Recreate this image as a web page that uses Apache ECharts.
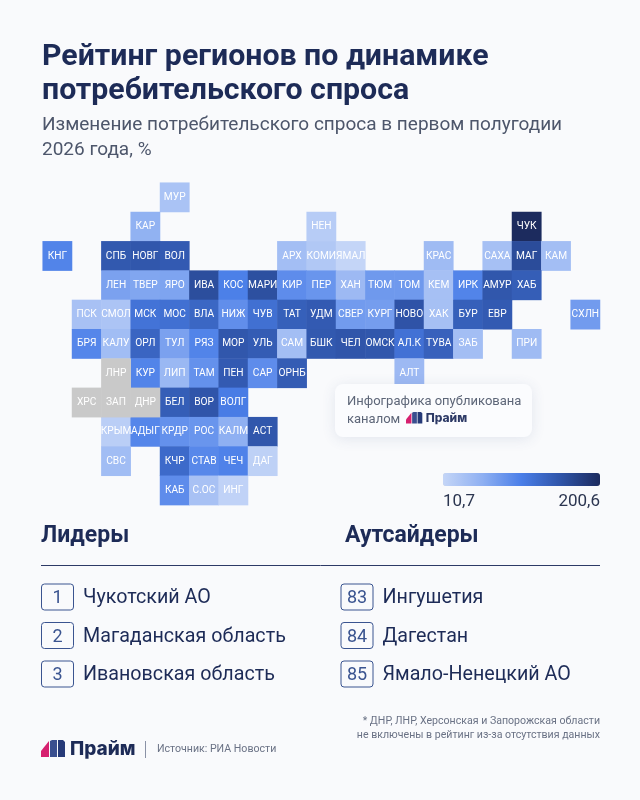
<!DOCTYPE html>
<html>
<head>
<meta charset="utf-8">
<style>html,body{margin:0;padding:0;background:#f9fafc}#main{width:640px;height:800px}</style>
<script src="https://cdn.jsdelivr.net/npm/echarts@6/dist/echarts.min.js"></script>
</head>
<body>
<div id="main"></div>
<script>
// tile map rows, index in the row = column of the tile
var row0Codes = [,,,,'МУР'];
var row0Values = [,,,,34];
var row1Codes = [,,,'КАР',,,,,,'НЕН',,,,,,,'ЧУК'];
var row1Values = [,,,56,,,,,,22,,,,,,,200.6];
var row2Codes = ['КНГ',,'СПБ','НОВГ','ВОЛ',,,,'АРХ','КОМИ','ЯМАЛ',,,'КРАС',,'САХА','МАГ','КАМ'];
var row2Values = [100,,148,150,146,,,,40,28,10.7,,,44,,38,162,40];
var row3Codes = [,,'ЛЕН','ТВЕР','ЯРО','ИВА','КОС','МАРИ','КИР','ПЕР','ХАН','ТЮМ','ТОМ','КЕМ','ИРК','АМУР','ХАБ'];
var row3Values = [,,72,68,70,160,104,158,92,84,46,80,80,38,100,150,142];
var row4Codes = [,'ПСК','СМОЛ','МСК','МОС','ВЛА','НИЖ','ЧУВ','ТАТ','УДМ','СВЕР','КУРГ','НОВО','ХАК','БУР','ЕВР',,,'СХЛН'];
var row4Values = [,36,32,118,122,132,90,122,140,146,78,76,154,38,140,146,,,78];
var row5Codes = [,'БРЯ','КАЛУ','ОРЛ','ТУЛ','РЯЗ','МОР','УЛЬ','САМ','БШК','ЧЕЛ','ОМСК','АЛ.К','ТУВА','ЗАБ',,'ПРИ'];
var row5Values = [,98,42,134,72,100,150,144,40,148,152,150,120,138,40,,44];
var row6Codes = [,,'ЛНР','КУР','ЛИП','ТАМ','ПЕН','САР','ОРНБ',,,,'АЛТ'];
var row6Values = [,,null,100,48,88,146,92,144,,,,46];
var row7Codes = [,'ХРС','ЗАП','ДНР','БЕЛ','ВОР','ВОЛГ'];
var row7Values = [,null,null,null,142,152,108];
var row8Codes = [,,'КРЫМ','АДЫГ','КРДР','РОС','КАЛМ','АСТ'];
var row8Values = [,,20,98,88,84,58,150];
var row9Codes = [,,'СВС',,'КЧР','СТАВ','ЧЕЧ','ДАГ'];
var row9Values = [,,42,,128,96,102,16];
var row10Codes = [,,,,'КАБ','С.ОС','ИНГ'];
var row10Values = [,,,,92,36,14];

var codeRows = [row0Codes,row1Codes,row2Codes,row3Codes,row4Codes,row5Codes,row6Codes,row7Codes,row8Codes,row9Codes,row10Codes];
var valueRows = [row0Values,row1Values,row2Values,row3Values,row4Values,row5Values,row6Values,row7Values,row8Values,row9Values,row10Values];

var minValue = 10.7;
var maxValue = 200.6;
var minLabel = '10,7';
var maxLabel = '200,6';

var leaderRanks = ['1','2','3'];
var leaderNames = ['Чукотский АО','Магаданская область','Ивановская область'];
var outsiderRanks = ['83','84','85'];
var outsiderNames = ['Ингушетия','Дагестан','Ямало-Ненецкий АО'];

var columns = [];
for(var c=0;c<19;c++){ columns.push(String(c)); }
var rowNames = [];
for(var r=0;r<11;r++){ rowNames.push(String(r)); }

var ratedCells = [];
var grayCells = [];
codeRows.forEach(function(codes,r){
	codes.forEach(function(code,c){
		if(!code){ return; }
		var v = valueRows[r][c];
		if(v===null){
			grayCells.push({name:code,value:[c,r,0]});
		}else{
			ratedCells.push({name:code,value:[c,r,v]});
		}
	});
});

var navy = '#1d2b57';
var slate = '#4d566b';
var frame = '#3a5490';

function txt(text,x,y,font,fill,align){
	return {type:'text',z:10,style:{text:text,x:x,y:y,font:font,fill:fill,align:align||'left',verticalAlign:'middle'}};
}

// logo: three slanted bars and the name
function logo(x,y,s,font,fill){
	var p = function(pts){ return pts.map(function(q){ return [x+q[0]*s,y+q[1]*s]; }); };
	return [
		{type:'polygon',z:11,shape:{points:p([[0,17],[0,11],[8,1],[8,17]])},style:{fill:'#d6206f'}},
		{type:'polygon',z:11,shape:{points:p([[9,17],[9,1],[11,0],[16,0],[16,17]])},style:{fill:'#3a4f8f'}},
		{type:'polygon',z:11,shape:{points:p([[17,17],[17,0],[22,0],[24,2],[24,17]])},style:{fill:'#263a78'}},
		txt('Прайм',x+29*s,y+9*s,font,fill)
	];
}

var graphics = [
	txt('Рейтинг регионов по динамике',42,57,'700 30.3px Roboto',navy),
	txt('потребительского спроса',42,91,'700 30.3px Roboto',navy),
	txt('Изменение потребительского спроса в первом полугодии',42,125,'400 19px Roboto',slate),
	txt('2026 года, %',42,150,'400 19px Roboto',slate),
	{type:'rect',z:9,shape:{x:335,y:384,width:197,height:53,r:8},style:{fill:'#fbfcfe',shadowBlur:14,shadowColor:'rgba(60,80,130,0.12)',shadowOffsetY:2}},
	txt('Инфографика опубликована',347,402,'400 13px Roboto','#5d6678'),
	txt('каналом',347,420,'400 13px Roboto','#5d6678'),
	txt(minLabel,443,501.5,'400 17px Roboto','#2b3550'),
	txt(maxLabel,600,501.5,'400 17px Roboto','#2b3550','right'),
	txt('Лидеры',41,536,'700 23px Roboto',navy),
	txt('Аутсайдеры',345,536,'700 23px Roboto',navy),
	{type:'line',z:10,shape:{x1:41,y1:565.5,x2:600,y2:565.5},style:{stroke:'#2d3a66',lineWidth:1}},
	txt('* ДНР, ЛНР, Херсонская и Запорожская области',600,721,'400 10.6px Roboto','#6a7285','right'),
	txt('не включены в рейтинг из-за отсутствия данных',600,735,'400 10.6px Roboto','#6a7285','right'),
	{type:'line',z:10,shape:{x1:145.5,y1:741,x2:145.5,y2:758},style:{stroke:'#8a92a6',lineWidth:1}},
	txt('Источник: РИА Новости',157,749,'400 10.6px Roboto','#6a7285')
].concat(logo(406,412,0.68,'800 12px Inter','#2d3a66'),logo(41,740,1,'800 19px Inter',navy));

[584,622.5,661].forEach(function(y,i){
	graphics.push({type:'rect',z:10,shape:{x:41.5,y:y,width:32,height:26,r:3},style:{fill:'none',stroke:frame,lineWidth:1}});
	graphics.push(txt(leaderRanks[i],57.5,y+14.5,'400 18px Roboto',frame,'center'));
	graphics.push(txt(leaderNames[i],83,y+14.5,'400 19.7px Roboto',navy));
	graphics.push({type:'rect',z:10,shape:{x:341,y:y,width:32,height:26,r:3},style:{fill:'none',stroke:frame,lineWidth:1}});
	graphics.push(txt(outsiderRanks[i],357,y+14.5,'400 18px Roboto',frame,'center'));
	graphics.push(txt(outsiderNames[i],382.5,y+14.5,'400 19.7px Roboto',navy));
});

var cellLabel = {show:true,formatter:'{b}',color:'#ffffff',fontFamily:'Roboto',fontSize:10.2};

var chart = echarts.init(document.getElementById('main'),null,{width:640,height:800});
chart.setOption({
	backgroundColor:'#f9fafc',
	animation:false,
	grid:{left:42.7,top:182.7,width:557.3,height:322.4},
	xAxis:{type:'category',data:columns,show:false},
	yAxis:{type:'category',data:rowNames,inverse:true,show:false},
	visualMap:{
		type:'continuous',
		seriesIndex:0,
		min:minValue,
		max:maxValue,
		orient:'horizontal',
		left:443,
		top:473,
		padding:0,
		itemWidth:13,
		itemHeight:157,
		showLabel:false,
		text:null,
		calculable:false,
		inRange:{color:['#c4d5f7','#8fb0f2','#4a7ee8','#2f54a8','#1c2b5e']}
	},
	series:[
		{name:'Рейтинг',type:'heatmap',data:ratedCells,label:cellLabel},
		{name:'Нет данных',type:'heatmap',data:grayCells,label:cellLabel,itemStyle:{color:'#c9c9c9'}}
	],
	graphic:graphics
});
</script>
</body>
</html>
